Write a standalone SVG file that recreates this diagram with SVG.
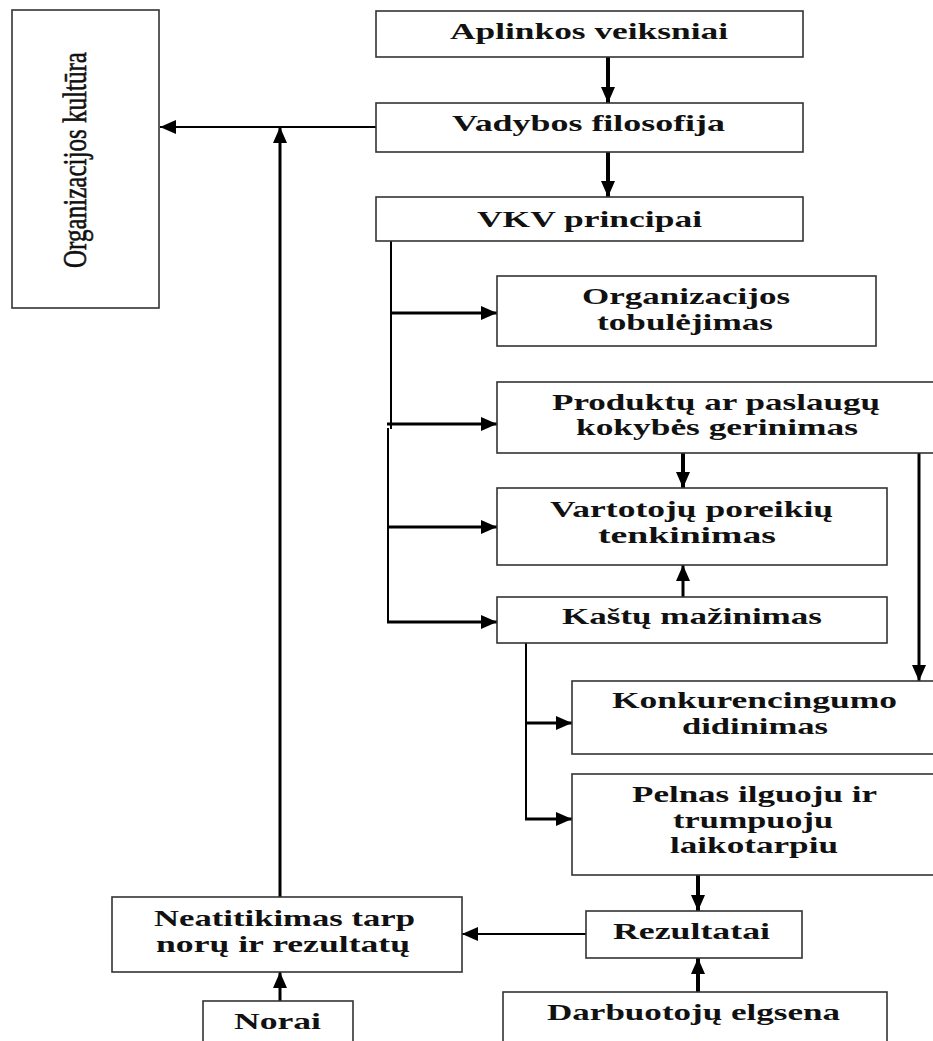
<svg xmlns="http://www.w3.org/2000/svg" width="933" height="1041" viewBox="0 0 933 1041">
<style>
.box{fill:#fff;stroke:#333;stroke-width:1.6}
.t{font-family:"Liberation Serif","Times New Roman",serif;font-weight:bold;font-size:24px;fill:#111;text-anchor:middle}
.tv{font-family:"Liberation Serif","Times New Roman",serif;font-size:33px;fill:#111;text-anchor:middle;stroke:#111;stroke-width:0.6}
.c{fill:none;stroke:#000}
.w2{stroke-width:2}
.w3{stroke-width:3}
.w4{stroke-width:4}
</style>
<defs>
<marker id="ah" markerUnits="userSpaceOnUse" markerWidth="17" markerHeight="14" refX="16" refY="7" orient="auto">
<path d="M0,0 L16,7 L0,14 z" fill="#000"/>
</marker>
</defs>
<rect width="933" height="1041" fill="#fff"/>
<g id="connectors">
<line class="c w4" x1="608" y1="57" x2="608" y2="103" marker-end="url(#ah)"/>
<line class="c w4" x1="608" y1="152" x2="608" y2="197" marker-end="url(#ah)"/>
<line class="c w2" x1="376" y1="127" x2="160" y2="127" marker-end="url(#ah)"/>
<line class="c w3" x1="280" y1="897" x2="280" y2="127" marker-end="url(#ah)"/>
<path class="c w2" d="M391,241 V429 M388,428 V623"/>
<line class="c w3" x1="390" y1="313" x2="497" y2="313" marker-end="url(#ah)"/>
<line class="c w3" x1="387" y1="424" x2="497" y2="424" marker-end="url(#ah)"/>
<line class="c w3" x1="387" y1="527" x2="497" y2="527" marker-end="url(#ah)"/>
<line class="c w3" x1="387" y1="622" x2="497" y2="622" marker-end="url(#ah)"/>
<line class="c w4" x1="683" y1="453" x2="683" y2="488" marker-end="url(#ah)"/>
<line class="c w3" x1="683" y1="597" x2="683" y2="565" marker-end="url(#ah)"/>
<line class="c w3" x1="919" y1="453" x2="919" y2="681" marker-end="url(#ah)"/>
<line class="c w2" x1="526" y1="643" x2="526" y2="820"/>
<line class="c w3" x1="525" y1="723" x2="572" y2="723" marker-end="url(#ah)"/>
<line class="c w3" x1="525" y1="819" x2="572" y2="819" marker-end="url(#ah)"/>
<line class="c w4" x1="698" y1="875" x2="698" y2="911" marker-end="url(#ah)"/>
<line class="c w4" x1="698" y1="992" x2="698" y2="958" marker-end="url(#ah)"/>
<line class="c w2" x1="586" y1="934" x2="462" y2="934" marker-end="url(#ah)"/>
<line class="c w3" x1="280" y1="1001" x2="280" y2="972" marker-end="url(#ah)"/>
</g>
<g id="organizacijos-kultura">
<rect class="box" x="12" y="10" width="147" height="298"/>
<text class="tv" transform="translate(86,160) rotate(-90)" textLength="216" lengthAdjust="spacingAndGlyphs">Organizacijos kultūra</text>
</g>
<g id="aplinkos-veiksniai">
<rect class="box" x="376" y="11" width="427" height="46"/>
<text class="t" x="589" y="39" textLength="278" lengthAdjust="spacingAndGlyphs">Aplinkos veiksniai</text>
</g>
<g id="vadybos-filosofija">
<rect class="box" x="376" y="103" width="427" height="49"/>
<text class="t" x="588.5" y="131" textLength="273" lengthAdjust="spacingAndGlyphs">Vadybos filosofija</text>
</g>
<g id="vkv-principai">
<rect class="box" x="376" y="197" width="427" height="44"/>
<text class="t" x="589.5" y="227" textLength="225" lengthAdjust="spacingAndGlyphs">VKV principai</text>
</g>
<g id="organizacijos-tobulejimas">
<rect class="box" x="497" y="276" width="379" height="70"/>
<text class="t" x="686" y="304" textLength="208" lengthAdjust="spacingAndGlyphs">Organizacijos</text>
<text class="t" x="685" y="330" textLength="176" lengthAdjust="spacingAndGlyphs">tobulėjimas</text>
</g>
<g id="produktu-kokybe">
<rect class="box" x="497" y="382" width="445" height="71"/>
<text class="t" x="716" y="410" textLength="328" lengthAdjust="spacingAndGlyphs">Produktų ar paslaugų</text>
<text class="t" x="717" y="435" textLength="282" lengthAdjust="spacingAndGlyphs">kokybės gerinimas</text>
</g>
<g id="vartotoju-poreikiai">
<rect class="box" x="497" y="488" width="390" height="77"/>
<text class="t" x="691.5" y="517" textLength="283" lengthAdjust="spacingAndGlyphs">Vartotojų poreikių</text>
<text class="t" x="687" y="543" textLength="178" lengthAdjust="spacingAndGlyphs">tenkinimas</text>
</g>
<g id="kastu-mazinimas">
<rect class="box" x="497" y="597" width="390" height="46"/>
<text class="t" x="692" y="624" textLength="260" lengthAdjust="spacingAndGlyphs">Kaštų mažinimas</text>
</g>
<g id="konkurencingumo-didinimas">
<rect class="box" x="572" y="681" width="370" height="73"/>
<text class="t" x="754.5" y="708" textLength="285" lengthAdjust="spacingAndGlyphs">Konkurencingumo</text>
<text class="t" x="755" y="734" textLength="146" lengthAdjust="spacingAndGlyphs">didinimas</text>
</g>
<g id="pelnas">
<rect class="box" x="572" y="774" width="370" height="101"/>
<text class="t" x="754.5" y="802" textLength="245" lengthAdjust="spacingAndGlyphs">Pelnas ilguoju ir</text>
<text class="t" x="753" y="828" textLength="160" lengthAdjust="spacingAndGlyphs">trumpuoju</text>
<text class="t" x="754" y="853" textLength="168" lengthAdjust="spacingAndGlyphs">laikotarpiu</text>
</g>
<g id="rezultatai">
<rect class="box" x="586" y="911" width="216" height="47"/>
<text class="t" x="691.5" y="939" textLength="157" lengthAdjust="spacingAndGlyphs">Rezultatai</text>
</g>
<g id="darbuotoju-elgsena">
<rect class="box" x="503" y="992" width="384" height="60"/>
<text class="t" x="693.5" y="1020" textLength="293" lengthAdjust="spacingAndGlyphs">Darbuotojų elgsena</text>
</g>
<g id="neatitikimas">
<rect class="box" x="112" y="897" width="350" height="75"/>
<text class="t" x="284.5" y="926" textLength="261" lengthAdjust="spacingAndGlyphs">Neatitikimas tarp</text>
<text class="t" x="283" y="952" textLength="254" lengthAdjust="spacingAndGlyphs">norų ir rezultatų</text>
</g>
<g id="norai">
<rect class="box" x="203" y="1001" width="150" height="50"/>
<text class="t" x="277.5" y="1029" textLength="87" lengthAdjust="spacingAndGlyphs">Norai</text>
</g>
</svg>
